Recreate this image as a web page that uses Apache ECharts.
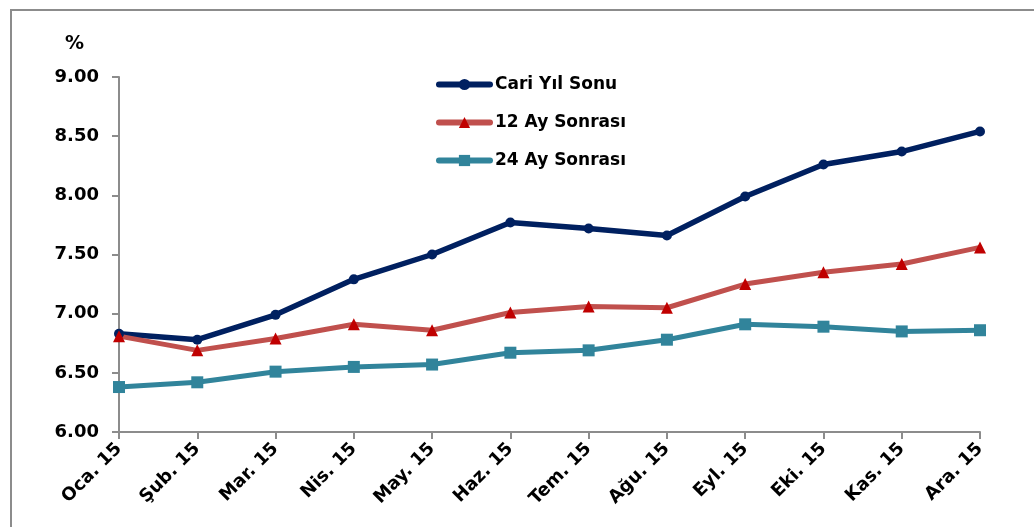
<!DOCTYPE html>
<html>
<head>
<meta charset="utf-8">
<script src="https://cdn.jsdelivr.net/npm/echarts@6/dist/echarts.min.js"></script>
<style>html,body{margin:0;padding:0;background:#fff;}#c{width:1034px;height:527px;}</style>
</head>
<body>
<div id="c"></div>
<script>
var categories = ['Oca. 15','Şub. 15','Mar. 15','Nis. 15','May. 15','Haz. 15','Tem. 15','Ağu. 15','Eyl. 15','Eki. 15','Kas. 15','Ara. 15'];
var cariYilSonu = [6.83, 6.78, 6.99, 7.29, 7.50, 7.77, 7.72, 7.66, 7.99, 8.26, 8.37, 8.54];
var ay12Sonrasi = [6.81, 6.69, 6.79, 6.91, 6.86, 7.01, 7.06, 7.05, 7.25, 7.35, 7.42, 7.56];
var ay24Sonrasi = [6.38, 6.42, 6.51, 6.55, 6.57, 6.67, 6.69, 6.78, 6.91, 6.89, 6.85, 6.86];
var yTicks = ['6.00','6.50','7.00','7.50','8.00','8.50','9.00'];

var FONT = 'DejaVu Sans';
var chart = echarts.init(document.getElementById('c'));
chart.setOption({
  animation: false,
  backgroundColor: '#fff',
  graphic: [{
    type: 'rect', shape: {x: 11, y: 10, width: 1200, height: 700},
    style: {fill: 'none', stroke: '#8c8c8c', lineWidth: 2}, silent: true
  }],
  title: {
    text: '%', left: 60, top: 30,
    textStyle: {fontFamily: FONT, fontWeight: 'bold', fontSize: 19, color: '#000'}
  },
  legend: {
    orient: 'vertical', left: 436, top: 76, padding: 0, itemWidth: 51, itemHeight: 14, itemGap: 21,
    lineStyle: {width: 6, cap: 'round'},
    textStyle: {fontFamily: FONT, fontWeight: 'bold', fontSize: 17, color: '#000'},
    data: ['Cari Yıl Sonu', '12 Ay Sonrası', '24 Ay Sonrası']
  },
  grid: {left: 119, right: 54, top: 77, bottom: 95, containLabel: false},
  xAxis: {
    type: 'category', data: categories, boundaryGap: false,
    axisLine: {lineStyle: {color: '#8c8c8c', width: 2}},
    axisTick: {alignWithLabel: true, length: 7, lineStyle: {color: '#8c8c8c', width: 2}},
    axisLabel: {rotate: 45, margin: 14, interval: 0, fontFamily: FONT, fontWeight: 'bold', fontSize: 18, color: '#000'}
  },
  yAxis: {
    type: 'value', min: 6, max: 9, interval: 0.5,
    splitLine: {show: false},
    axisLine: {show: true, lineStyle: {color: '#8c8c8c', width: 2}},
    axisTick: {show: true, length: 7, lineStyle: {color: '#8c8c8c', width: 2}},
    axisLabel: {margin: 20, fontFamily: FONT, fontWeight: 'bold', fontSize: 18, color: '#000',
      formatter: function (v) { return yTicks[Math.round((v - 6) / 0.5)]; }}
  },
  series: [
    {name: 'Cari Yıl Sonu', type: 'line', data: cariYilSonu, symbol: 'circle', symbolSize: 10,
      lineStyle: {color: '#002060', width: 5.5}, itemStyle: {color: '#002060'}},
    {name: '12 Ay Sonrası', type: 'line', data: ay12Sonrasi, symbol: 'triangle', symbolSize: 12,
      lineStyle: {color: '#C0504D', width: 5}, itemStyle: {color: '#C00000'}},
    {name: '24 Ay Sonrası', type: 'line', data: ay24Sonrasi, symbol: 'rect', symbolSize: 12,
      lineStyle: {color: '#31849B', width: 5}, itemStyle: {color: '#31849B'}}
  ]
});
</script>
</body>
</html>
